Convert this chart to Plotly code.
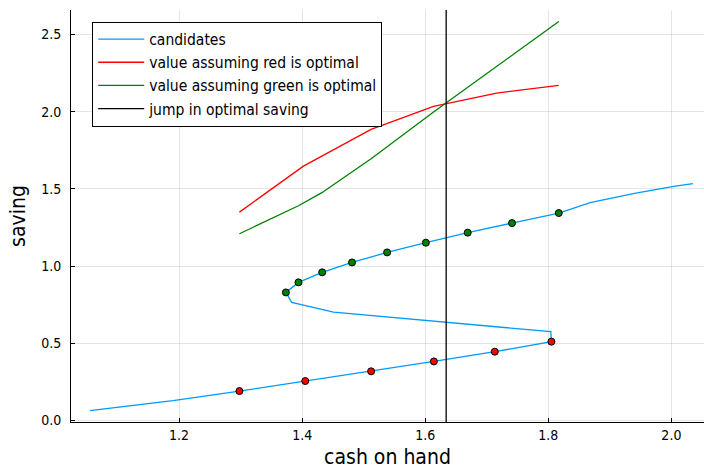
import plotly.graph_objects as go

# candidate (endogenous grid) points, in order
cand_x = [1.055, 1.19, 1.298, 1.405, 1.512, 1.614, 1.713, 1.805, 1.804, 1.451, 1.383,
          1.3735, 1.394, 1.4325, 1.481, 1.538, 1.601, 1.669, 1.741, 1.817, 1.868, 1.94, 2.004, 2.035]
cand_y = [0.063, 0.128, 0.19, 0.255, 0.318, 0.382, 0.445, 0.51, 0.575, 0.701, 0.764,
          0.829, 0.894, 0.959, 1.023, 1.088, 1.151, 1.216, 1.278, 1.343, 1.41, 1.47, 1.516, 1.533]

red_x = [1.298, 1.405, 1.512, 1.614, 1.713, 1.805]
red_y = [0.19, 0.255, 0.318, 0.382, 0.445, 0.51]

green_x = [1.3735, 1.394, 1.4325, 1.481, 1.538, 1.601, 1.669, 1.741, 1.817]
green_y = [0.829, 0.894, 0.959, 1.023, 1.088, 1.151, 1.216, 1.278, 1.343]

vred_x = [1.298, 1.402, 1.512, 1.6135, 1.716, 1.817]
vred_y = [1.349, 1.647, 1.885, 2.034, 2.12, 2.17]

vgreen_x = [1.298, 1.394, 1.432, 1.512, 1.6135, 1.716, 1.817]
vgreen_y = [1.209, 1.39, 1.475, 1.695, 1.997, 2.293, 2.584]

jump_x = 1.634
y_lo, y_hi = -0.0103, 2.658
x_lo, x_hi = 1.0243, 2.053

x_ticks = [1.2, 1.4, 1.6, 1.8, 2.0]
y_ticks = [0.0, 0.5, 1.0, 1.5, 2.0, 2.5]

FONT = "DejaVu Sans Condensed, DejaVu Sans"

fig = go.Figure()
fig.add_trace(go.Scatter(x=cand_x, y=cand_y, mode="lines", name="candidates",
                         line=dict(color="#009AFA", width=1.3)))
fig.add_trace(go.Scatter(x=vred_x, y=vred_y, mode="lines", name="value assuming red is optimal",
                         line=dict(color="#FF0000", width=1.3)))
fig.add_trace(go.Scatter(x=vgreen_x, y=vgreen_y, mode="lines", name="value assuming green is optimal",
                         line=dict(color="#008000", width=1.3)))
fig.add_trace(go.Scatter(x=[jump_x, jump_x], y=[y_lo, y_hi], mode="lines", name="jump in optimal saving",
                         line=dict(color="black", width=1.3)))
fig.add_trace(go.Scatter(x=red_x, y=red_y, mode="markers", showlegend=False,
                         marker=dict(color="#FF0000", size=7, line=dict(color="black", width=1))))
fig.add_trace(go.Scatter(x=green_x, y=green_y, mode="markers", showlegend=False,
                         marker=dict(color="#008000", size=7, line=dict(color="black", width=1))))

axis_common = dict(showline=True, linecolor="black", linewidth=1, ticks="inside", ticklen=4,
                   tickcolor="black", showgrid=True, gridcolor="rgba(0,0,0,0.1)", gridwidth=1,
                   zeroline=False, tickfont=dict(family=FONT, size=14, color="black"),
                   mirror=False)

fig.update_layout(
    width=704, height=474,
    margin=dict(l=70.5, r=0, t=9.5, b=51.7),
    paper_bgcolor="white", plot_bgcolor="white",
    font=dict(family=FONT, color="black"),
    xaxis=dict(range=[x_lo, x_hi], tickvals=x_ticks, ticktext=[f"{v:.1f}" for v in x_ticks],
               title=dict(text="cash on hand", font=dict(family=FONT, size=21), standoff=7),
               **axis_common),
    yaxis=dict(range=[y_lo, y_hi], tickvals=y_ticks, ticktext=[f"{v:.1f}" for v in y_ticks],
               ticklabelstandoff=6,
               title=dict(text="saving", font=dict(family=FONT, size=21), standoff=9),
               **axis_common),
    legend=dict(x=0.0335, y=0.972, xanchor="left", yanchor="top",
                bgcolor="white", bordercolor="black", borderwidth=1,
                font=dict(family=FONT, size=15.5, color="black"),
                tracegroupgap=0, itemwidth=46),
    showlegend=True,
)

fig.write_html("out.html", config={"displayModeBar": False},
               post_script="document.body.style.margin='0';document.body.style.padding='0';")
